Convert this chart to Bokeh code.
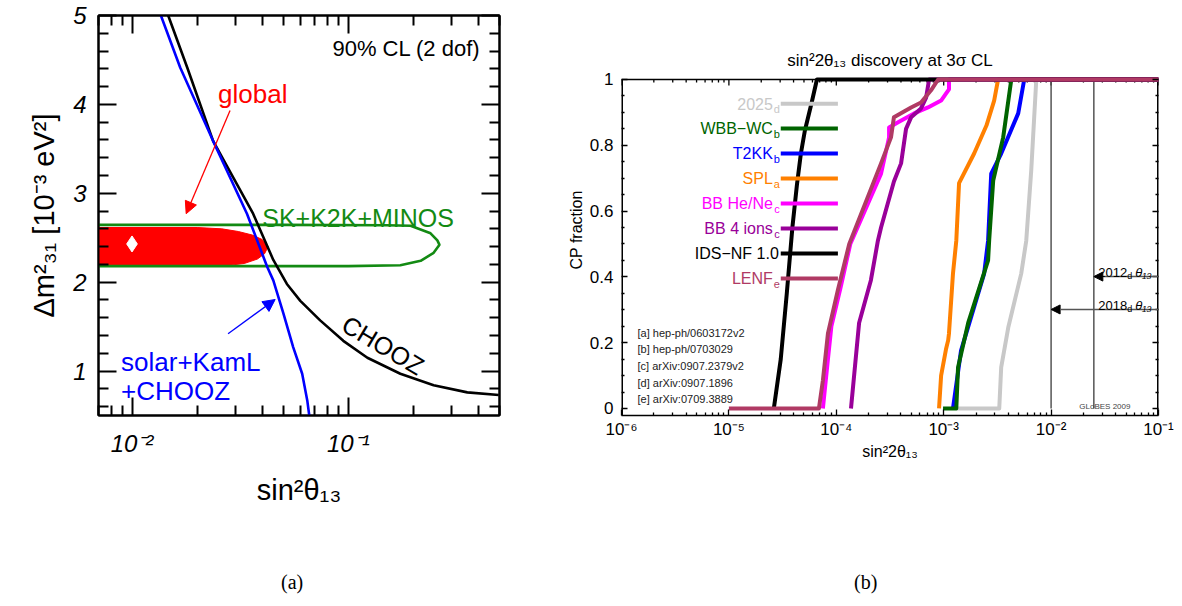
from bokeh.plotting import figure
from bokeh.layouts import row, column
from bokeh.models import (FixedTicker, LogAxis, LinearAxis, CustomJSTickFormatter,
                          Label, Arrow, NormalHead, Title, Div)
from bokeh.embed import file_html
from bokeh.resources import INLINE

SANS = "Liberation Sans"
SERIF = "Liberation Serif"

# ---------------- panel (a) data ----------------
chooz_x = [0.0147, 0.0180, 0.0237, 0.0363, 0.045, 0.052, 0.060, 0.0741, 0.0948, 0.1225, 0.174, 0.248, 0.355, 0.496]
chooz_y = [5.0, 4.415, 3.59, 2.77, 2.25, 1.98, 1.79, 1.57, 1.34, 1.15, 0.97, 0.84, 0.76, 0.73]
solar_x = [0.0136, 0.0167, 0.0237, 0.034, 0.0422, 0.045, 0.0501, 0.0556, 0.0612, 0.0646, 0.066]
solar_y = [5.0, 4.415, 3.59, 2.77, 2.17, 2.02, 1.65, 1.27, 0.97, 0.67, 0.5]
sk_x = [0.005, 0.05, 0.15, 0.194, 0.24, 0.258, 0.264, 0.248, 0.216, 0.174, 0.1, 0.005]
sk_y = [2.645, 2.645, 2.64, 2.635, 2.55, 2.47, 2.42, 2.33, 2.24, 2.19, 2.18, 2.18]
glob_x = [0.005, 0.02, 0.026, 0.031, 0.036, 0.040, 0.0426, 0.041, 0.038, 0.033, 0.027, 0.02, 0.005]
glob_y = [2.615, 2.615, 2.60, 2.57, 2.53, 2.48, 2.40, 2.32, 2.26, 2.21, 2.185, 2.18, 2.18]
best_x = [0.01]
best_y = [2.43]

# ---------------- panel (b) data ----------------
x_2025 = [1.31e-3, 3.29e-3, 3.43e-3, 3.99e-3, 5.27e-3, 5.87e-3, 6.53e-3, 7.28e-3, 0.1]
y_2025 = [0, 0, 0.125, 0.246, 0.41, 0.51, 0.723, 1.0, 1.0]
x_wbb = [9.86e-4, 1.31e-3, 1.36e-3, 1.69e-3, 2.59e-3, 2.65e-3, 2.89e-3, 3.58e-3, 4.26e-3, 0.1]
y_wbb = [0, 0, 0.125, 0.26, 0.45, 0.51, 0.693, 0.824, 1.0, 1.0]
x_t2kk = [1.22e-3, 1.45e-3, 2.38e-3, 2.59e-3, 2.77e-3, 3.43e-3, 4.94e-3, 5.62e-3, 0.1]
y_t2kk = [0, 0.176, 0.41, 0.51, 0.714, 0.775, 0.897, 1.0, 1.0]
x_spl = [9.05e-4, 9.46e-4, 1.05e-3, 1.10e-3, 1.12e-3, 1.22e-3, 1.31e-3, 1.39e-3, 1.92e-3, 2.5e-3, 2.95e-3, 3.21e-3, 0.1]
y_spl = [0, 0.1, 0.18, 0.207, 0.228, 0.41, 0.51, 0.685, 0.775, 0.86, 0.936, 1.0, 1.0]
x_hene = [7.5e-5, 8.36e-5, 9.0e-5, 1.1e-4, 1.35e-4, 2.61e-4, 3.10e-4, 3.10e-4, 3.76e-4, 5.30e-4, 7.14e-4, 9.46e-4, 1.05e-3, 1.12e-3, 1.12e-3, 0.1]
y_hene = [0, 0.15, 0.25, 0.37, 0.5, 0.714, 0.824, 0.854, 0.87, 0.897, 0.915, 0.936, 0.957, 0.97, 1.0, 1.0]
x_4ions = [1.37e-4, 1.43e-4, 1.63e-4, 2.10e-4, 2.44e-4, 2.61e-4, 3.44e-4, 4.01e-4, 4.46e-4, 4.97e-4, 6.15e-4, 6.86e-4, 7.31e-4, 0.1]
y_4ions = [0, 0.064, 0.26, 0.39, 0.51, 0.55, 0.69, 0.745, 0.85, 0.885, 0.912, 0.945, 1.0, 1.0]
x_ids = [2.62e-5, 3.04e-5, 3.46e-5, 3.9e-5, 4.3e-5, 4.68e-5, 5.1e-5, 5.9e-5, 6.6e-5, 0.1]
y_ids = [0, 0.15, 0.35, 0.55, 0.68, 0.775, 0.845, 0.93, 1.0, 1.0]
x_lenf = [1.0e-5, 6.89e-5, 7.5e-5, 8.36e-5, 1.035e-4, 1.32e-4, 2.61e-4, 3.23e-4, 3.44e-4, 4.97e-4, 6.15e-4, 7.62e-4, 8.87e-4, 0.1]
y_lenf = [0, 0, 0.085, 0.228, 0.36, 0.5, 0.745, 0.824, 0.885, 0.915, 0.93, 0.967, 1.0, 1.0]

legend_names = ["2025", "WBB\u2212WC", "T2KK", "SPL", "BB He/Ne", "BB 4 ions", "IDS\u2212NF 1.0", "LENF"]
legend_subs = ["d", "b", "b", "a", "c", "c", "", "e"]
legend_colors = ["#C8C8C8", "#006400", "#0000FF", "#FF8000", "#FF00FF", "#990099", "#000000", "#B03A64"]
legend_y = [0.926, 0.851, 0.775, 0.699, 0.623, 0.547, 0.471, 0.395]
legend_x0 = 3.04e-5
legend_x1 = 1.035e-4

references = ["[a] hep-ph/0603172v2", "[b] hep-ph/0703029", "[c] arXiv:0907.2379v2",
              "[d] arXiv:0907.1896", "[e] arXiv:0709.3889"]
ref_y = [0.23, 0.181, 0.13, 0.079, 0.029]

theta_lines_x = [0.01, 0.025]
theta_years = ["2018", "2012"]
theta_y = [0.301, 0.401]

SUP_JS = """
const m = {'-':'\u207b','0':'\u2070','1':'\u00b9','2':'\u00b2','3':'\u00b3','4':'\u2074','5':'\u2075','6':'\u2076','7':'\u2077','8':'\u2078','9':'\u2079'};
const e = Math.round(Math.log10(tick));
return '10' + String(e).split('').map(c => m[c]).join('');
"""


def lab(p, x, y, text, size, color="black", align="left", baseline="alphabetic",
        font=SANS, style="normal", angle=0.0, x_offset=0):
    p.add_layout(Label(x=x, y=y, text=text,
                       text_font=font, text_font_size=f"{size}px", text_color=color,
                       text_align=align, text_baseline=baseline, text_font_style=style,
                       angle=angle, x_offset=x_offset))


def style_axis(ax, tin, tmin, lw, lsize, lstyle, asize):
    ax.major_tick_in = tin
    ax.major_tick_out = 0
    ax.minor_tick_in = tmin
    ax.minor_tick_out = 0
    ax.axis_line_width = lw
    ax.major_tick_line_width = lw
    ax.minor_tick_line_width = lw
    ax.major_label_text_font = SANS
    ax.major_label_text_font_size = f"{lsize}px"
    ax.major_label_text_font_style = lstyle
    ax.major_label_text_color = "black"
    ax.axis_label_text_font = SANS
    ax.axis_label_text_font_size = f"{asize}px"
    ax.axis_label_text_font_style = "normal"
    ax.axis_label_text_color = "black"


def mirror(p, side, ticker, log, tin, tmin, lw, line=True):
    Ax = LogAxis if log else LinearAxis
    ax = Ax(ticker=ticker, formatter=CustomJSTickFormatter(code="return '';"),
            major_label_text_font_size="0px", major_label_standoff=0,
            major_tick_in=tin, major_tick_out=0, minor_tick_in=tmin, minor_tick_out=0,
            axis_line_width=lw, major_tick_line_width=lw, minor_tick_line_width=lw)
    if not line:
        ax.axis_line_color = None
    p.add_layout(ax, side)


FIG_H = 565

# =============== panel (a) ===============
p1 = figure(width=552, height=FIG_H, x_axis_type="log", x_range=(0.007, 0.5), y_range=(0.5, 5),
            output_backend="svg", toolbar_location=None,
            min_border_left=98, min_border_right=53, min_border_top=15, min_border_bottom=150)
p1.grid.visible = False
p1.outline_line_color = "black"
p1.outline_line_width = 2

xt1 = FixedTicker(ticks=[0.01, 0.1],
                  minor_ticks=[0.007, 0.008, 0.009] + [k * 0.01 for k in range(2, 10)] + [0.2, 0.3, 0.4, 0.5])
yt1 = FixedTicker(ticks=[1, 2, 3, 4, 5],
                  minor_ticks=[round(0.6 + 0.2 * i, 1) for i in range(23)
                               if abs((0.6 + 0.2 * i) - round(0.6 + 0.2 * i)) > 1e-6])

xa = p1.xaxis[0]
xa.ticker = xt1
xa.formatter = CustomJSTickFormatter(code=SUP_JS)
ya = p1.yaxis[0]
ya.ticker = yt1
for ax in (xa, ya):
    style_axis(ax, 18, 10, 2, 24, "italic", 29)
xa.major_label_standoff = 14
xa.axis_label_standoff = 14
ya.major_label_standoff = 12
ya.axis_label_standoff = 10
xa.axis_label = "sin\u00b2\u03b8\u2081\u2083"
ya.axis_label = "\u0394m\u00b2\u2083\u2081 [10\u207b\u00b3 eV\u00b2]"
mirror(p1, "above", xt1, True, 18, 10, 2)
mirror(p1, "right", yt1, False, 18, 10, 2)

p1.patch(glob_x, glob_y, fill_color="#FF0000", line_color="#FF0000", line_width=1)
p1.line(sk_x, sk_y, line_color="#138A13", line_width=2.6)
p1.line(chooz_x, chooz_y, line_color="black", line_width=2.6)
p1.line(solar_x, solar_y, line_color="#0000FF", line_width=2.6)
p1.scatter(best_x, best_y, marker="diamond", size=16, fill_color="white", line_color="white")

lab(p1, 0.408, 4.63, "90% CL (2 dof)", 22, align="right")
lab(p1, 0.025, 4.12, "global", 26, color="#FF0000")
lab(p1, 0.040, 2.72, "SK+K2K+MINOS", 25, color="#138A13")
lab(p1, 0.0089, 1.10, "solar+KamL", 26, color="#0000FF")
lab(p1, 0.0089, 0.78, "+CHOOZ", 26, color="#0000FF")
lab(p1, 0.145, 1.29, "CHOOZ", 25, align="center", baseline="middle", angle=-0.54)
p1.add_layout(Arrow(x_start=0.0284, y_start=3.93, x_end=0.0178, y_end=2.77,
                    line_color="#FF0000", line_width=1.3,
                    end=NormalHead(size=12, fill_color="#FF0000", line_color="#FF0000")))
p1.add_layout(Arrow(x_start=0.0278, y_start=1.42, x_end=0.0459, y_end=1.805,
                    line_color="#0000FF", line_width=1.3,
                    end=NormalHead(size=12, fill_color="#0000FF", line_color="#0000FF")))

# =============== panel (b) ===============
# frame spans same vertical extent as panel (a); the visible box is drawn from y=-0.0213 to 1
Y_BOT = -0.0213
Y_TOP = 1.1945
p2 = figure(width=624, height=FIG_H, x_axis_type="log", x_range=(1e-6, 0.1), y_range=(Y_BOT, Y_TOP),
            output_backend="svg", toolbar_location=None,
            min_border_left=69, min_border_right=18, min_border_top=15, min_border_bottom=150)
p2.grid.visible = False
p2.outline_line_color = None

x_major2 = [1e-6, 1e-5, 1e-4, 1e-3, 1e-2, 1e-1]
x_minor2 = [k * 10.0 ** e for e in range(-6, -1) for k in range(2, 10)]
xt2 = FixedTicker(ticks=x_major2, minor_ticks=x_minor2)
yt2 = FixedTicker(ticks=[0, 0.2, 0.4, 0.6, 0.8, 1.0],
                  minor_ticks=[round(0.05 * i, 2) for i in range(21) if i % 4 != 0])
xb = p2.xaxis[0]
xb.ticker = xt2
xb.formatter = CustomJSTickFormatter(code=SUP_JS)
yb = p2.yaxis[0]
yb.ticker = yt2
yb.formatter = CustomJSTickFormatter(code="return (tick < 1e-9) ? '0' : (tick > 0.999 ? '1' : tick.toFixed(1));")
for ax in (xb, yb):
    style_axis(ax, 6, 3, 1.3, 17, "normal", 16)
xb.axis_line_width = 1.5
yb.axis_line_color = None
xb.major_label_standoff = 4
xb.axis_label_standoff = 1
yb.major_label_standoff = 8
xb.axis_label = "sin\u00b22\u03b8\u2081\u2083"
mirror(p2, "right", yt2, False, 6, 3, 1.3, line=False)
p2.add_layout(Title(text="CP fraction", align="left", offset=146, text_font=SANS, text_color="black",
                    text_font_size="16px", text_font_style="normal", standoff=4), "left")

# box edges (left/right on the frame border, top at y=1) and top ticks
p2.segment(x0=[1e-6, 0.1, 1e-6], y0=[Y_BOT, Y_BOT, 1.0], x1=[1e-6, 0.1, 0.1], y1=[1.0, 1.0, 1.0],
           line_color="black", line_width=[3, 3, 1.5])
p2.segment(x0=x_major2, y0=[1.0] * len(x_major2), x1=x_major2, y1=[1.0 - 6 / 329] * len(x_major2),
           line_color="black", line_width=1.3)
p2.segment(x0=x_minor2, y0=[1.0] * len(x_minor2), x1=x_minor2, y1=[1.0 - 3 / 329] * len(x_minor2),
           line_color="black", line_width=1.3)

# reference markers: vertical lines and arrows
p2.segment(x0=theta_lines_x, y0=[0, 0], x1=theta_lines_x, y1=[1, 1], line_color="#555555", line_width=1.5)
for xl, yr, yy in zip(theta_lines_x, theta_years, theta_y):
    p2.add_layout(Arrow(x_start=0.1, y_start=yy, x_end=xl, y_end=yy, line_color="#555555", line_width=1.5,
                        end=NormalHead(size=9, fill_color="black", line_color="black")))
    lab(p2, 0.0275, yy + 0.012, yr, 13)
    lab(p2, 0.0275, yy + 0.002, "d", 9, x_offset=29)
    lab(p2, 0.0275, yy + 0.012, "\u03b8\u2081\u2083", 13, style="italic", x_offset=37)

series = [
    (x_2025, y_2025, legend_colors[0]),
    (x_t2kk, y_t2kk, legend_colors[2]),
    (x_wbb, y_wbb, legend_colors[1]),
    (x_spl, y_spl, legend_colors[3]),
    (x_hene, y_hene, legend_colors[4]),
    (x_4ions, y_4ions, legend_colors[5]),
    (x_ids, y_ids, legend_colors[6]),
    (x_lenf, y_lenf, legend_colors[7]),
]
for xs, ys, c in series:
    p2.line(xs, ys, line_color=c, line_width=4, line_join="round")

# legend
for name, sub, c, yy in zip(legend_names, legend_subs, legend_colors, legend_y):
    p2.line([legend_x0, legend_x1], [yy, yy], line_color=c, line_width=4)
    if sub:
        lab(p2, 2.98e-5, yy, name, 16, color=c, align="right", baseline="middle", x_offset=-7)
        lab(p2, 2.98e-5, yy - 0.016, sub, 11, color=c, align="right", baseline="middle")
    else:
        lab(p2, 2.98e-5, yy, name, 16, color=c, align="right", baseline="middle", x_offset=-1)

for t, yy in zip(references, ref_y):
    lab(p2, 1.41e-6, yy, t, 11, color="#222222")
lab(p2, 0.0183, 0.005, "GLoBES 2009", 8, color="#444444")

lab(p2, 3.162e-4, 1.058, "sin\u00b22\u03b8\u2081\u2083 discovery at 3\u03c3 CL", 17, align="center", baseline="middle")

# captions
captions = ["(a)", "(b)"]
caption_left = [276, 849]
spans = "".join(
    f'<span style="position:absolute; left:{x}px; top:1px; line-height:22px;">{t}</span>'
    for t, x in zip(captions, caption_left))
cap_html = f'<div style="position:relative; width:1176px; height:34px;">{spans}</div>'
div_cap = Div(text=cap_html, width=1176, height=34,
              styles={"font-family": SERIF, "font-size": "20px", "color": "black"})

layout = column(row(p1, p2), div_cap)
open("out.html", "w").write(file_html(layout, INLINE))
